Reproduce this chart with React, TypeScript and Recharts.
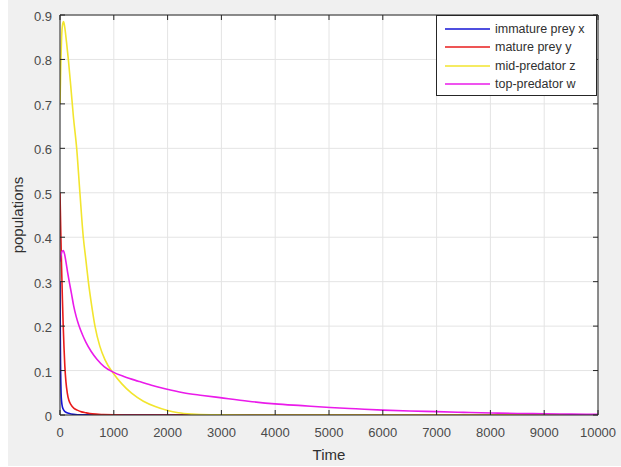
import React from 'react';
import { LineChart, Line, XAxis, YAxis, CartesianGrid, Legend } from 'recharts';

// Axis ticks
const timeTicks = [0, 1000, 2000, 3000, 4000, 5000, 6000, 7000, 8000, 9000, 10000];
const popTicks = [0, 0.1, 0.2, 0.3, 0.4, 0.5, 0.6, 0.7, 0.8, 0.9];
const popTickLabels = ['0', '0.1', '0.2', '0.3', '0.4', '0.5', '0.6', '0.7', '0.8', '0.9'];

// Series names and colours
const seriesNames = ['immature prey x', 'mature prey y', 'mid-predator z', 'top-predator w'];
const seriesColors = ['#1414d4', '#e81c1c', '#f2e52e', '#ea1bea'];

// immature prey x
const immatureTime = [0, 3, 6, 10, 15, 20, 30, 45, 70, 100, 160, 250, 400, 10000];
const immatureValue = [0.3, 0.23, 0.17, 0.115, 0.075, 0.05, 0.03, 0.018, 0.011, 0.007, 0.004, 0.0015, 0.0003, 0];

// mature prey y
const matureTime = [0, 15, 30, 45, 60, 75, 90, 110, 135, 165, 200, 260, 320, 400, 480, 600, 800, 1200, 10000];
const matureValue = [0.5, 0.41, 0.33, 0.26, 0.2, 0.15, 0.11, 0.075, 0.05, 0.033, 0.024, 0.015, 0.011, 0.007, 0.005, 0.0025, 0.001, 0, 0];

// mid-predator z
const midTime = [0, 15, 30, 50, 65, 85, 120, 155, 200, 250, 310, 370, 433, 480, 527, 590, 650, 740, 837, 990, 1150, 1330, 1550, 1770, 2000, 2200, 2450, 2800, 3500, 10000];
const midValue = [0.7, 0.79, 0.85, 0.88, 0.885, 0.875, 0.84, 0.8, 0.74, 0.67, 0.6, 0.5, 0.4, 0.35, 0.3, 0.245, 0.2, 0.155, 0.124, 0.094, 0.07, 0.049, 0.031, 0.019, 0.01, 0.005, 0.002, 0.0005, 0, 0];

// top-predator w
const topTime = [0, 15, 35, 60, 85, 110, 140, 175, 215, 255, 300, 350, 420, 480, 580, 690, 820, 980, 1200, 1456, 1700, 1952, 2292, 2650, 2974, 3500, 3997, 4500, 5019, 5500, 6005, 6500, 7002, 7500, 8025, 8500, 9000, 9500, 10000];
const topValue = [0.345, 0.357, 0.367, 0.37, 0.362, 0.345, 0.322, 0.298, 0.272, 0.245, 0.222, 0.202, 0.18, 0.164, 0.143, 0.125, 0.109, 0.097, 0.086, 0.076, 0.067, 0.059, 0.05, 0.044, 0.039, 0.031, 0.025, 0.021, 0.017, 0.014, 0.011, 0.009, 0.0075, 0.006, 0.0045, 0.0035, 0.0027, 0.002, 0.0015];

const toRows = (t: number[], v: number[]) => t.map((time, i) => ({ time, value: v[i] }));

const seriesData = [
  toRows(immatureTime, immatureValue),
  toRows(matureTime, matureValue),
  toRows(midTime, midValue),
  toRows(topTime, topValue),
];

const FONT = '"Liberation Sans", Arial, Helvetica, sans-serif';
const AXIS = '#262626';
const TICK_TEXT = '#4a4a4a';
const TICK_LEN = 5;

const BottomTick = (props: any) => {
  const { x, y, payload } = props;
  return (
    <g>
      <line x1={x} y1={y} x2={x} y2={y - TICK_LEN} stroke={AXIS} strokeWidth={1} />
      <text x={x} y={y + 22} textAnchor="middle" fontFamily={FONT} fontSize={13} fill={TICK_TEXT}>
        {payload.value}
      </text>
    </g>
  );
};

const TopTick = (props: any) => {
  const { x, y } = props;
  return <line x1={x} y1={y} x2={x} y2={y + TICK_LEN} stroke={AXIS} strokeWidth={1} />;
};

const LeftTick = (props: any) => {
  const { x, y, payload, index } = props;
  return (
    <g>
      <line x1={x} y1={y} x2={x + TICK_LEN} y2={y} stroke={AXIS} strokeWidth={1} />
      <text x={x - 8} y={y + 6} textAnchor="end" fontFamily={FONT} fontSize={13} fill={TICK_TEXT}>
        {popTickLabels[index] ?? String(payload.value)}
      </text>
    </g>
  );
};

const RightTick = (props: any) => {
  const { x, y } = props;
  return <line x1={x} y1={y} x2={x - TICK_LEN} y2={y} stroke={AXIS} strokeWidth={1} />;
};

const renderLegend = (props: any) => {
  const payload = props.payload || [];
  return (
    <div
      style={{
        boxSizing: 'border-box',
        width: 161,
        height: 81,
        background: '#fff',
        border: `1px solid ${AXIS}`,
        paddingTop: 3.5,
        fontFamily: FONT,
        fontSize: 12.5,
        color: '#303030',
      }}
    >
      {payload.map((entry: any) => (
        <div key={entry.value} style={{ display: 'flex', alignItems: 'center', height: 18.5 }}>
          <svg width={55} height={10} style={{ display: 'block' }}>
            <line x1={8} y1={5} x2={53} y2={5} stroke={entry.color} strokeWidth={1.6} />
          </svg>
          <span style={{ marginLeft: 3, whiteSpace: 'nowrap', lineHeight: '18.5px' }}>{entry.value}</span>
        </div>
      ))}
    </div>
  );
};

export default function App() {
  return (
    <div style={{ position: 'relative', width: 621, height: 467, background: '#fff' }}>
      <style>{'body{margin:0;background:#fff}'}</style>
      <div style={{ position: 'absolute', left: 8, top: 0, width: 613, height: 466, background: '#f0f0f0' }} />
      <div style={{ position: 'absolute', left: 0, top: 0 }}>
        <LineChart width={621} height={467} margin={{ top: 0, right: 0, bottom: 0, left: 0 }}>
          <CartesianGrid stroke="#e4e4e4" fill="#fff" strokeWidth={1} />
          <XAxis
            dataKey="time"
            type="number"
            domain={[0, 10000]}
            ticks={timeTicks}
            height={52}
            axisLine={{ stroke: AXIS, strokeWidth: 1 }}
            tickLine={false}
            tickSize={0}
            tickMargin={0}
            tick={BottomTick}
            interval={0}
            allowDataOverflow
            label={{ value: 'Time', position: 'insideBottom', offset: 7, fontFamily: FONT, fontSize: 15, fill: '#303030' }}
          />
          <XAxis
            xAxisId="top"
            orientation="top"
            dataKey="time"
            type="number"
            domain={[0, 10000]}
            ticks={timeTicks}
            height={15}
            axisLine={{ stroke: AXIS, strokeWidth: 1 }}
            tickLine={false}
            tickSize={0}
            tickMargin={0}
            tick={TopTick}
            interval={0}
            allowDataOverflow
          />
          <YAxis
            type="number"
            domain={[0, 0.9]}
            ticks={popTicks}
            width={60}
            axisLine={{ stroke: AXIS, strokeWidth: 1 }}
            tickLine={false}
            tickSize={0}
            tickMargin={0}
            tick={LeftTick}
            interval={0}
            allowDataOverflow
            label={{
              value: 'populations',
              angle: -90,
              position: 'insideLeft',
              offset: 18,
              style: { textAnchor: 'middle' },
              fontFamily: FONT,
              fontSize: 15,
              fill: '#303030',
            }}
          />
          <YAxis
            yAxisId="right"
            orientation="right"
            type="number"
            domain={[0, 0.9]}
            ticks={popTicks}
            width={23}
            axisLine={{ stroke: AXIS, strokeWidth: 1 }}
            tickLine={false}
            tickSize={0}
            tickMargin={0}
            tick={RightTick}
            interval={0}
            allowDataOverflow
          />
          {seriesData.map((rows, i) => (
            <Line
              key={seriesNames[i]}
              data={rows}
              dataKey="value"
              name={seriesNames[i]}
              type="monotone"
              stroke={seriesColors[i]}
              strokeWidth={1.6}
              dot={false}
              activeDot={false}
              isAnimationActive={false}
            />
          ))}
          <Legend
            layout="vertical"
            align="center"
            verticalAlign="middle"
            wrapperStyle={{ position: 'absolute', top: 15, left: 436, width: 161, height: 81 }}
            content={renderLegend}
          />
        </LineChart>
      </div>
    </div>
  );
}
